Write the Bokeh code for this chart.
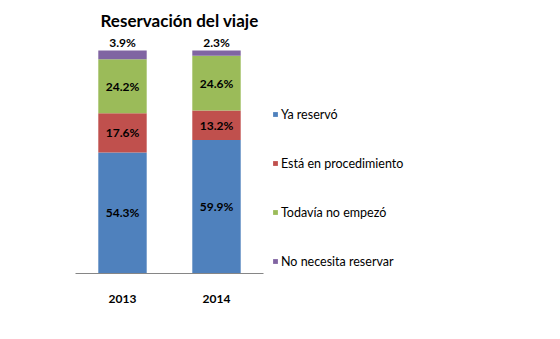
from bokeh.plotting import figure
from bokeh.models import ColumnDataSource, FactorRange, Legend, LegendItem, Range1d
from bokeh.core.properties import value
from bokeh.embed import file_html
from bokeh.resources import INLINE

years = ["2013", "2014"]
series = ["Ya reservó", "Está en procedimiento", "Todavía no empezó", "No necesita reservar"]
ya_reservo = [54.3, 59.9]
en_procedimiento = [17.6, 13.2]
no_empezo = [24.2, 24.6]
no_necesita = [3.9, 2.3]
colors = ["#4F81BD", "#C0504D", "#9BBB59", "#8064A2"]

data = dict(years=years)
keys = ["a", "b", "c", "d"]
for k, vals in zip(keys, [ya_reservo, en_procedimiento, no_empezo, no_necesita]):
    data[k] = [v / 100 for v in vals]
source = ColumnDataSource(data)

FRAME_H = 243
p = figure(x_range=FactorRange(*years, range_padding=0), y_range=Range1d(0, FRAME_H / 223.0),
           frame_width=188, frame_height=FRAME_H,
           min_border_left=75, min_border_right=297, min_border_top=30, min_border_bottom=66,
           output_backend="svg", toolbar_location=None,
           title="Reservación del viaje")
p.x_range.range_padding = 0
p.title.text_font = "Lato"
p.title.text_font_size = "17px"
p.title.text_font_style = "bold"
p.title.text_color = "#000000"
p.title.offset = 25
p.title.standoff = 0

renderers = p.vbar_stack(keys, x="years", width=0.515, color=colors, source=source, line_color=None)

# labels
lab_x, lab_y, lab_t = [], [], []
bottoms = [0.0, 0.0]
for vals in [ya_reservo, en_procedimiento, no_empezo]:
    for i, v in enumerate(vals):
        lab_x.append(years[i])
        lab_y.append(bottoms[i] + v / 200)
        lab_t.append(f"{v:.1f}%")
        bottoms[i] += v / 100
p.text(x=lab_x, y=lab_y, text=lab_t, text_align="center", text_baseline="middle",
       text_font=value("Lato"), text_font_size="12px", text_font_style="bold", text_color="#000000")

top_x = years
top_y = [(a + b + c + d) / 100 for a, b, c, d in zip(ya_reservo, en_procedimiento, no_empezo, no_necesita)]
top_t = [f"{v:.1f}%" for v in no_necesita]
p.text(x=top_x, y=top_y, text=top_t, text_align="center", text_baseline="bottom", y_offset=-1,
       text_font=value("Lato"), text_font_size="12px", text_font_style="bold", text_color="#000000")

legend = Legend(items=[LegendItem(label=s, renderers=[r]) for s, r in zip(series, renderers)],
                location=(9, 4), orientation="vertical",
                glyph_width=6, glyph_height=6, label_height=16, spacing=33,
                label_standoff=3, padding=0, margin=0,
                border_line_color=None, background_fill_alpha=0,
                label_text_font="Lato", label_text_font_size="12.5px", label_text_color="#000000")
p.add_layout(legend, "right")

p.yaxis.visible = False
p.xgrid.visible = False
p.ygrid.visible = False
p.outline_line_color = None
p.xaxis.axis_line_color = "#868686"
p.xaxis.major_tick_line_color = None
p.xaxis.minor_tick_line_color = None
p.xaxis.major_label_standoff = 15
p.xaxis.major_label_text_font = "Lato"
p.xaxis.major_label_text_font_size = "12px"
p.xaxis.major_label_text_font_style = "bold"
p.xaxis.major_label_text_color = "#000000"

open("out.html", "w").write(file_html(p, INLINE))
